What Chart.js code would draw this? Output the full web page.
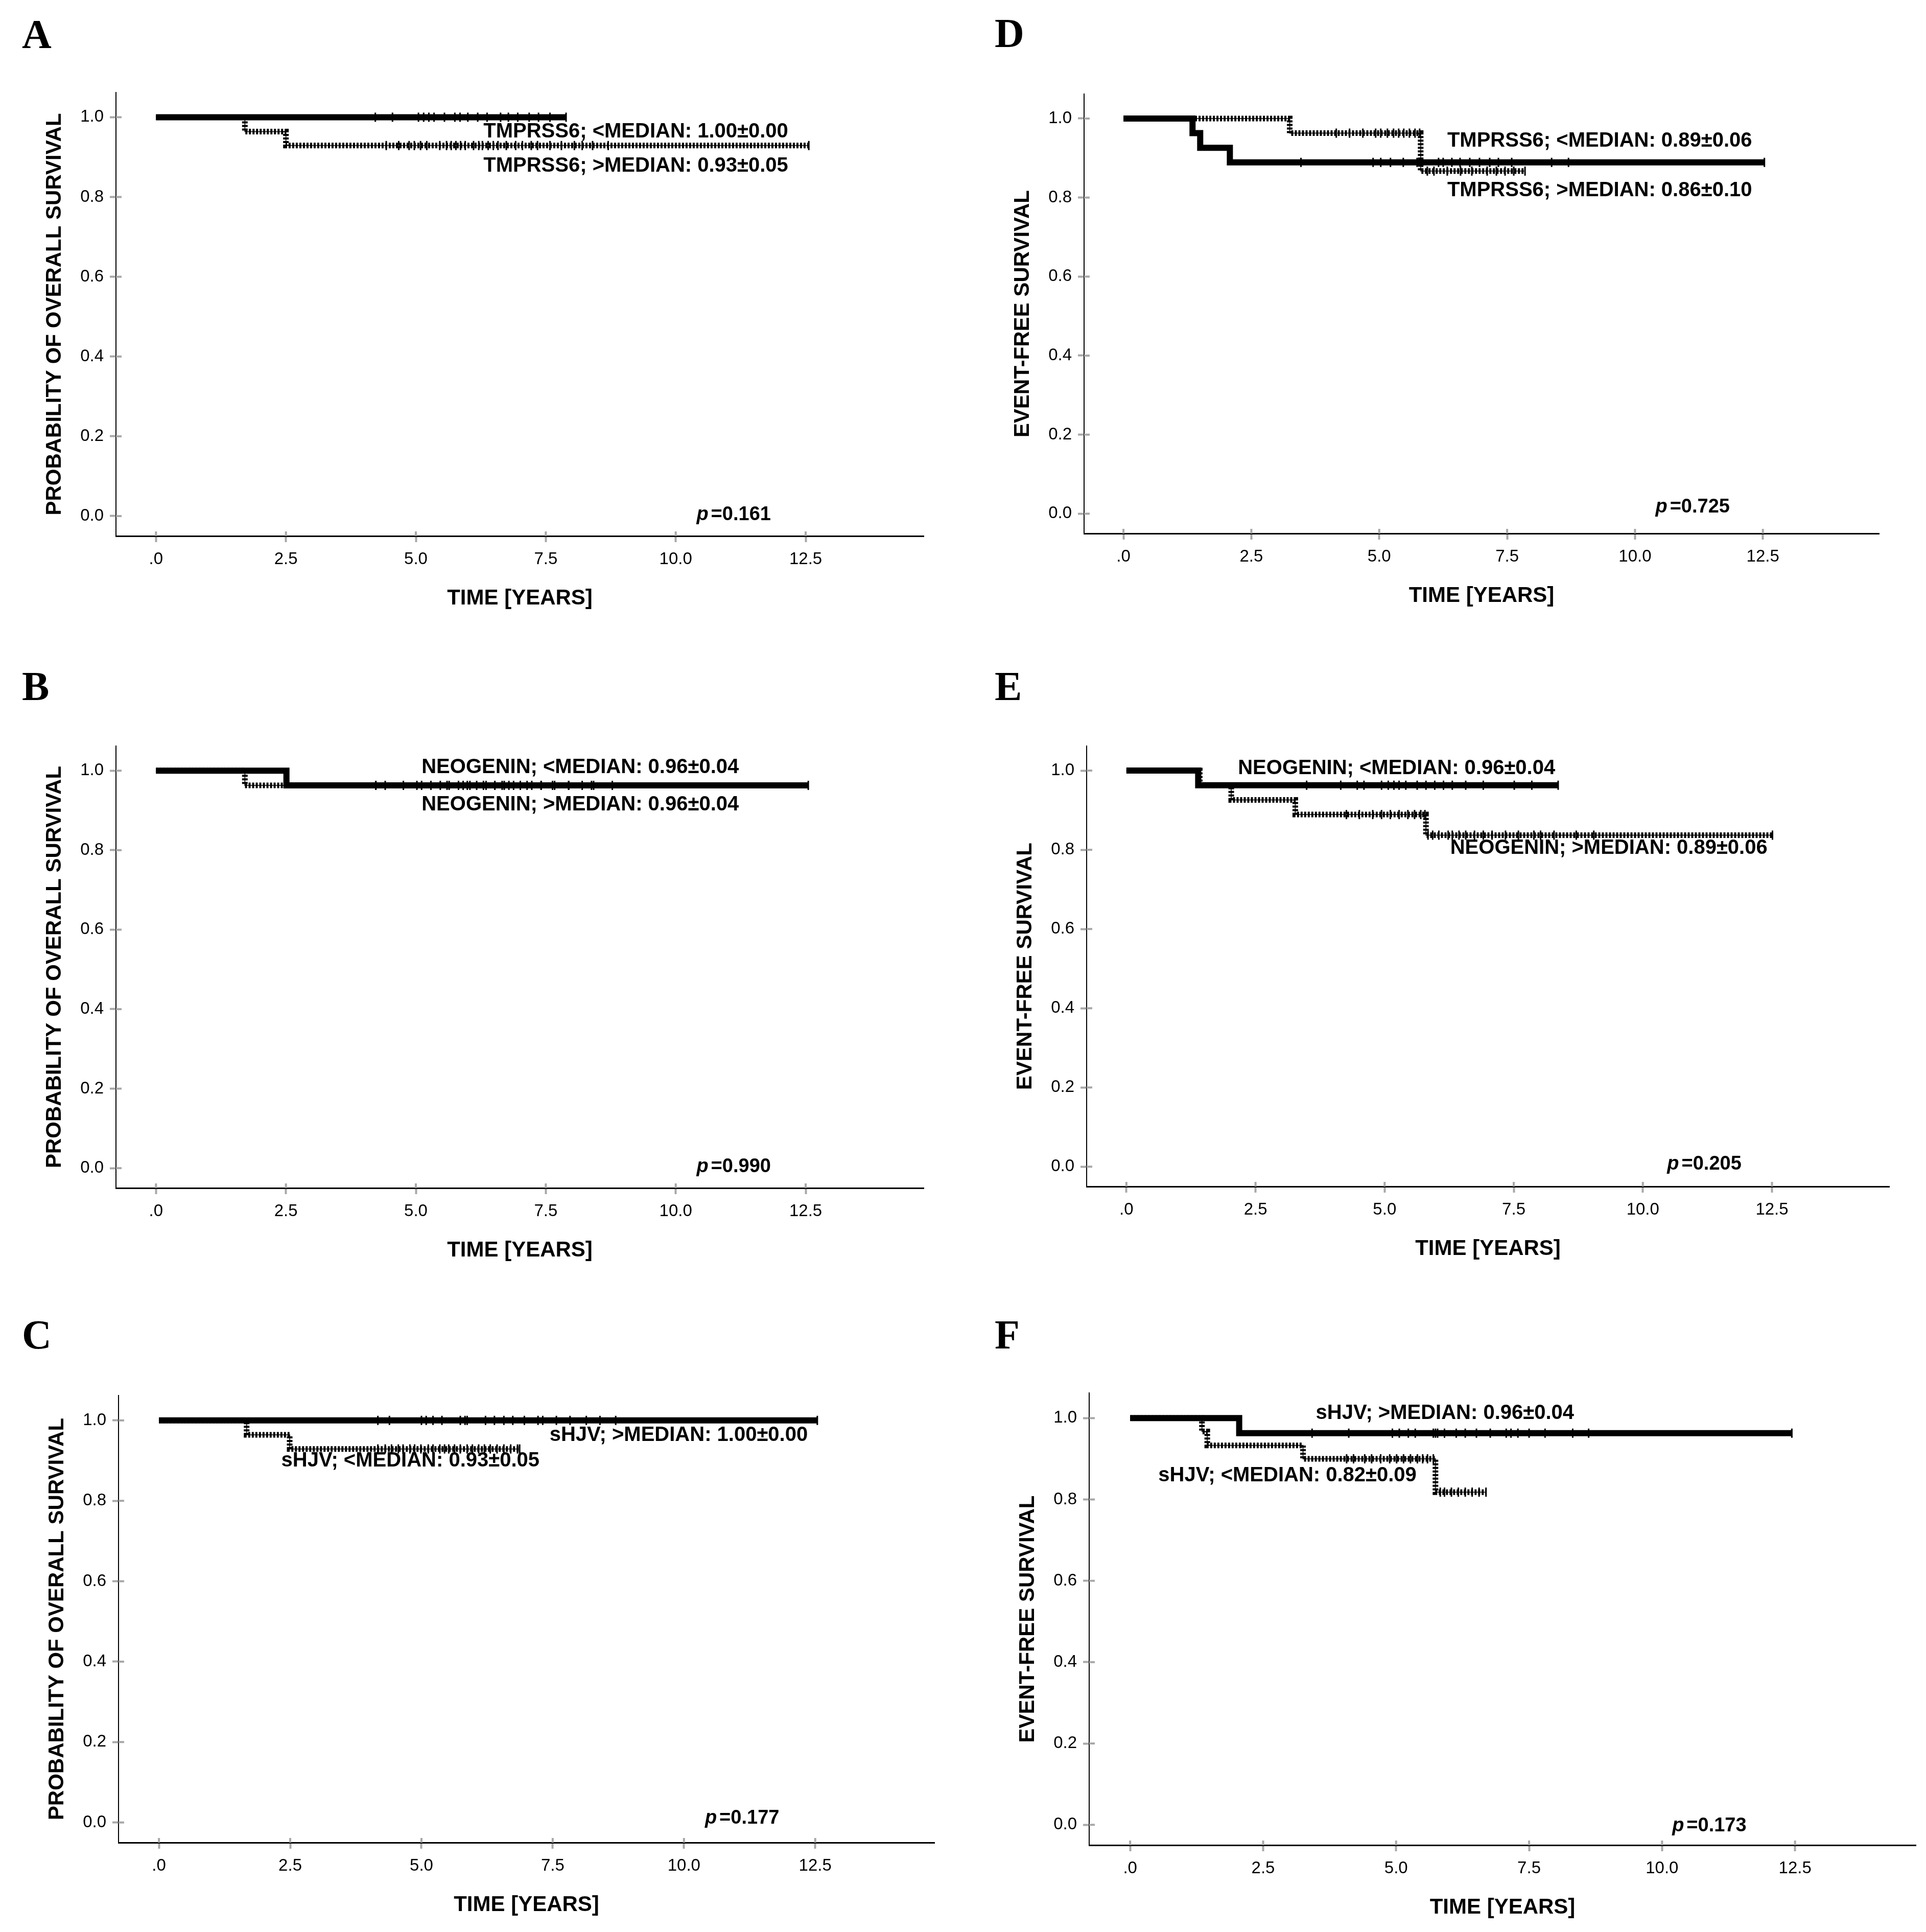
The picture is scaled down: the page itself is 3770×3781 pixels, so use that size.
<!DOCTYPE html>
<html>
<head>
<meta charset="utf-8">
<script src="https://cdn.jsdelivr.net/npm/chart.js@4.4.1/dist/chart.umd.min.js"></script>
<style>
html, body { margin: 0; padding: 0; background: #fff; }
#page { position: relative; width: 3770px; height: 3781px; background: #fff; overflow: hidden; }
canvas { position: absolute; }
.letter { position: absolute; font-family: "Liberation Serif", "DejaVu Serif", serif; font-weight: bold; font-size: 80px; line-height: 80px; color: #000; }
</style>
</head>
<body>
<div id="page">
  <div class="letter" style="left:43px;top:27px">A</div>
  <div class="letter" style="left:1947px;top:25px">D</div>
  <div class="letter" style="left:43px;top:1303px">B</div>
  <div class="letter" style="left:1947px;top:1303px">E</div>
  <div class="letter" style="left:43px;top:2572px">C</div>
  <div class="letter" style="left:1947px;top:2572px">F</div>
  <canvas id="cA"></canvas>
  <canvas id="cD"></canvas>
  <canvas id="cB"></canvas>
  <canvas id="cE"></canvas>
  <canvas id="cC"></canvas>
  <canvas id="cF"></canvas>
</div>
<script>
const FONT = '"Liberation Sans", Arial, sans-serif';

// axis ticks
const xTickValues = [0, 2.5, 5, 7.5, 10, 12.5];
const xTickLabels = ['.0', '2.5', '5.0', '7.5', '10.0', '12.5'];
const yTickValues = [0, 0.2, 0.4, 0.6, 0.8, 1.0];
const yTickLabels = ['0.0', '0.2', '0.4', '0.6', '0.8', '1.0'];

// A: TMPRSS6, overall survival
const aLowT = [0, 7.89];
const aLowS = [1, 1];
const aLowCens = [4.22, 4.55, 5.05, 5.15, 5.25, 5.35, 5.55, 5.75, 5.85, 6.0, 6.19, 6.37, 6.63, 6.78, 6.96, 7.18, 7.36, 7.58, 7.89];
const aHighT = [0, 1.71, 2.50, 12.56];
const aHighS = [1, 0.964, 0.929, 0.929];
const aHighCens = [4.43, 4.67, 4.87, 4.97, 5.09, 5.21, 5.46, 5.59, 5.68, 5.77, 5.86, 5.95, 6.11, 6.21, 6.28, 6.39, 6.49, 6.58, 6.74, 6.92, 7.05, 7.22, 7.34, 7.58, 7.80, 8.05, 8.20, 8.40, 8.70, 12.56];

// D: TMPRSS6, event-free survival
const dLowT = [0, 1.35, 1.50, 2.08, 12.53];
const dLowS = [1, 0.963, 0.926, 0.889, 0.889];
const dLowCens = [3.47, 4.88, 5.03, 5.22, 5.47, 5.74, 5.84, 6.16, 6.25, 6.42, 6.58, 6.77, 6.96, 7.16, 7.33, 7.59, 8.37, 8.70, 12.53];
const dHighT = [0, 3.25, 5.81, 7.85];
const dHighS = [1, 0.963, 0.867, 0.867];
const dHighCens = [4.16, 4.42, 4.68, 4.93, 5.03, 5.16, 5.28, 5.38, 5.48, 5.59, 5.70, 5.79, 5.94, 6.07, 6.33, 6.59, 6.81, 7.11, 7.29, 7.46, 7.63, 7.85];

// B: NEOGENIN, overall survival
const bLowT = [0, 2.51, 12.55];
const bLowS = [1, 0.963, 0.963];
const bLowCens = [4.23, 4.41, 5.02, 5.29, 5.60, 5.91, 6.04, 6.30, 6.52, 6.66, 6.79, 7.01, 7.23, 7.41, 7.67, 7.94, 8.42, 8.78, 12.55];
const bHighT = [0, 1.71, 8.38];
const bHighS = [1, 0.963, 0.963];
const bHighCens = [4.23, 4.76, 5.11, 5.47, 5.64, 5.82, 5.99, 6.17, 6.35, 6.52, 6.70, 6.88, 7.14, 7.41, 7.63, 7.94, 8.20, 8.38];

// E: NEOGENIN, event-free survival
const eLowT = [0, 1.39, 8.36];
const eLowS = [1, 0.963, 0.963];
const eLowCens = [3.49, 4.15, 4.47, 4.60, 4.94, 5.07, 5.18, 5.28, 5.41, 5.63, 5.80, 5.97, 6.14, 6.31, 6.57, 6.91, 7.51, 7.85, 8.36];
const eHighT = [0, 1.42, 2.03, 3.27, 5.80, 12.51];
const eHighS = [1, 0.963, 0.926, 0.889, 0.837, 0.837];
const eHighCens = [4.26, 4.51, 4.77, 4.94, 5.11, 5.28, 5.45, 5.58, 5.70, 5.78, 5.84, 5.93, 6.05, 6.23, 6.31, 6.44, 6.57, 6.74, 6.91, 7.08, 7.34, 7.59, 7.89, 8.02, 8.28, 8.71, 9.05, 12.51];

// C: sHJV, overall survival
const cHighT = [0, 12.54];
const cHighS = [1, 1];
const cHighCens = [4.17, 4.39, 5.00, 5.09, 5.22, 5.39, 5.74, 5.83, 5.87, 6.22, 6.39, 6.57, 6.74, 6.96, 7.22, 7.31, 7.57, 7.83, 8.14, 8.40, 8.70, 12.54];
const cLowT = [0, 1.67, 2.49, 6.87];
const cLowS = [1, 0.964, 0.929, 0.929];
const cLowCens = [4.17, 4.31, 4.43, 4.56, 4.65, 4.78, 4.87, 4.99, 5.13, 5.22, 5.35, 5.44, 5.52, 5.63, 5.74, 5.87, 5.97, 6.09, 6.20, 6.31, 6.44, 6.57, 6.70, 6.83, 6.87];

// F: sHJV, event-free survival
const fHighT = [0, 2.05, 12.44];
const fHighS = [1, 0.963, 0.963];
const fHighCens = [3.42, 4.11, 4.93, 5.06, 5.23, 5.36, 5.70, 5.74, 5.78, 5.91, 6.13, 6.30, 6.51, 6.77, 7.07, 7.16, 7.29, 7.50, 7.80, 8.32, 8.62, 12.44];
const fLowT = [0, 1.35, 1.45, 3.25, 5.74, 6.69];
const fLowS = [1, 0.967, 0.933, 0.900, 0.818, 0.818];
const fLowCens = [4.07, 4.20, 4.41, 4.54, 4.71, 4.88, 5.01, 5.14, 5.27, 5.40, 5.50, 5.59, 5.70, 5.83, 5.91, 6.04, 6.17, 6.30, 6.43, 6.56, 6.69];

function steps(T, S) {
    return T.map((t, i) => ({x: t, y: S[i]}));
}

function censorPoints(C, T, S) {
    return C.map(c => {
        let s = S[0];
        for (let i = 0; i < T.length; i++) {
            if (T[i] <= c) s = S[i];
        }
        return {x: c, y: s};
    });
}

const OS = 'PROBABILITY OF OVERALL SURVIVAL';
const EFS = 'EVENT-FREE SURVIVAL';

// canvas box: left, top, width, height (chart area = box minus 227 left, 40 top, 20 right, 160 bottom)
const panels = [
    {id: 'cA', box: [0, 141, 1828, 1068], yTitle: OS,
     solid: [aLowT, aLowS, aLowCens], dotted: [aHighT, aHighS, aHighCens],
     labels: [{t: 'TMPRSS6; <MEDIAN: 1.00±0.00', x: 6.30, y: 0.963}, {t: 'TMPRSS6; >MEDIAN: 0.93±0.05', x: 6.30, y: 0.878}],
     p: {t: '=0.161', x: 10.4, y: 0.003}},
    {id: 'cD', box: [1895, 144, 1803, 1060], yTitle: EFS,
     solid: [dLowT, dLowS, dLowCens], dotted: [dHighT, dHighS, dHighCens],
     labels: [{t: 'TMPRSS6; <MEDIAN: 0.89±0.06', x: 6.33, y: 0.943}, {t: 'TMPRSS6; >MEDIAN: 0.86±0.10', x: 6.33, y: 0.818}],
     p: {t: '=0.725', x: 10.4, y: 0.016}},
    {id: 'cB', box: [0, 1420, 1828, 1065], yTitle: OS,
     solid: [bLowT, bLowS, bLowCens], dotted: [bHighT, bHighS, bHighCens],
     labels: [{t: 'NEOGENIN; <MEDIAN: 0.96±0.04', x: 5.11, y: 1.008}, {t: 'NEOGENIN; >MEDIAN: 0.96±0.04', x: 5.11, y: 0.914}],
     p: {t: '=0.990', x: 10.4, y: 0.003}},
    {id: 'cE', box: [1900, 1420, 1818, 1062], yTitle: EFS,
     solid: [eLowT, eLowS, eLowCens], dotted: [eHighT, eHighS, eHighCens],
     labels: [{t: 'NEOGENIN; <MEDIAN: 0.96±0.04', x: 2.16, y: 1.005}, {t: 'NEOGENIN; >MEDIAN: 0.89±0.06', x: 6.27, y: 0.804}],
     p: {t: '=0.205', x: 10.47, y: 0.006}},
    {id: 'cC', box: [5, 2691, 1844, 1075], yTitle: OS,
     solid: [cHighT, cHighS, cHighCens], dotted: [cLowT, cLowS, cLowCens],
     labels: [{t: 'sHJV; >MEDIAN: 1.00±0.00', x: 7.44, y: 0.9625}, {t: 'sHJV; <MEDIAN: 0.93±0.05', x: 2.33, y: 0.899}],
     p: {t: '=0.177', x: 10.4, y: 0.01}},
    {id: 'cF', box: [1905, 2686, 1865, 1085], yTitle: EFS,
     solid: [fHighT, fHighS, fHighCens], dotted: [fLowT, fLowS, fLowCens],
     labels: [{t: 'sHJV; >MEDIAN: 0.96±0.04', x: 3.49, y: 1.012}, {t: 'sHJV; <MEDIAN: 0.82±0.09', x: 0.53, y: 0.858}],
     p: {t: '=0.173', x: 10.19, y: -0.003}}
];

const annotPlugin = {
    id: 'annot',
    afterDatasetsDraw(chart, args, opts) {
        const {ctx, scales: {x, y}} = chart;
        ctx.save();
        // inner half of the tick marks (SPSS ticks cross the axis)
        ctx.strokeStyle = '#a8a8a8';
        ctx.lineWidth = 4;
        xTickValues.forEach(v => {
            const px = x.getPixelForValue(v);
            ctx.beginPath();
            ctx.moveTo(px, y.bottom);
            ctx.lineTo(px, y.bottom - 9);
            ctx.stroke();
        });
        yTickValues.forEach(v => {
            const py = y.getPixelForValue(v);
            ctx.beginPath();
            ctx.moveTo(x.left, py);
            ctx.lineTo(x.left + 11, py);
            ctx.stroke();
        });
        ctx.fillStyle = '#000';
        ctx.textAlign = 'left';
        ctx.textBaseline = 'middle';
        ctx.font = 'bold 40px ' + FONT;
        opts.labels.forEach(l => {
            ctx.fillText(l.t, x.getPixelForValue(l.x), y.getPixelForValue(l.y));
        });
        const px = x.getPixelForValue(opts.p.x);
        const py = y.getPixelForValue(opts.p.y);
        ctx.font = 'italic bold 38px ' + FONT;
        ctx.fillText('p', px, py);
        const w = ctx.measureText('p').width;
        ctx.font = 'bold 38px ' + FONT;
        ctx.fillText(opts.p.t, px + w + 5, py);
        ctx.restore();
    }
};

function censorSet(points) {
    return {
        data: points,
        showLine: false,
        pointStyle: 'line',
        pointRotation: 90,
        pointRadius: 9,
        pointBorderWidth: 3,
        pointBorderColor: '#000',
        pointBackgroundColor: '#000'
    };
}

function createKmChart(p) {
    const el = document.getElementById(p.id);
    el.width = p.box[2];
    el.height = p.box[3];
    el.style.left = p.box[0] + 'px';
    el.style.top = p.box[1] + 'px';

    const [sT, sS, sC] = p.solid;
    const [dT, dS, dC] = p.dotted;

    return new Chart(el, {
        type: 'line',
        plugins: [annotPlugin],
        data: {
            datasets: [
                {
                    data: steps(sT, sS),
                    stepped: 'before',
                    borderColor: '#000',
                    borderWidth: 12,
                    borderJoinStyle: 'miter',
                    pointRadius: 0,
                    fill: false
                },
                censorSet(censorPoints(sC, sT, sS)),
                {
                    data: steps(dT, dS),
                    stepped: 'before',
                    borderColor: '#000',
                    borderWidth: 11,
                    borderDash: [4, 3],
                    borderCapStyle: 'butt',
                    pointRadius: 0,
                    fill: false
                },
                {
                    // thin spine running through the dotted line
                    data: steps(dT, dS),
                    stepped: 'before',
                    borderColor: '#333',
                    borderWidth: 2,
                    pointRadius: 0,
                    fill: false
                },
                censorSet(censorPoints(dC, dT, dS))
            ]
        },
        options: {
            responsive: false,
            devicePixelRatio: 1,
            animation: false,
            layout: {padding: {left: 0, top: 40, right: 20, bottom: 0}},
            plugins: {
                legend: {display: false},
                tooltip: {enabled: false},
                annot: {labels: p.labels, p: p.p}
            },
            scales: {
                x: {
                    type: 'linear',
                    min: -0.77,
                    max: 14.77,
                    afterBuildTicks: s => { s.ticks = xTickValues.map(v => ({value: v})); },
                    afterFit: s => { s.height = 160; },
                    grid: {drawOnChartArea: false, drawTicks: true, tickLength: 12, tickColor: '#a8a8a8', tickWidth: 4},
                    border: {display: true, color: '#000', width: 3},
                    ticks: {
                        color: '#000',
                        font: {family: FONT, size: 33},
                        padding: 14,
                        maxRotation: 0,
                        autoSkip: false,
                        callback: (v, i) => xTickLabels[i]
                    },
                    title: {
                        display: true,
                        text: 'TIME [YEARS]',
                        color: '#000',
                        font: {family: FONT, size: 42, weight: 'bold'},
                        padding: {top: 0, bottom: 12}
                    }
                },
                y: {
                    type: 'linear',
                    min: -0.05,
                    max: 1.062,
                    afterBuildTicks: s => { s.ticks = yTickValues.map(v => ({value: v})); },
                    afterFit: s => { s.width = 227; },
                    grid: {drawOnChartArea: false, drawTicks: true, tickLength: 12, tickColor: '#a8a8a8', tickWidth: 4},
                    border: {display: true, color: '#000', width: 2},
                    ticks: {
                        color: '#000',
                        font: {family: FONT, size: 33},
                        padding: 12,
                        autoSkip: false,
                        callback: (v, i) => yTickLabels[i]
                    },
                    title: {
                        display: true,
                        text: p.yTitle,
                        color: '#000',
                        font: {family: FONT, size: 42, weight: 'bold'},
                        padding: {top: 82, bottom: 0}
                    }
                }
            }
        }
    });
}

panels.forEach(createKmChart);
</script>
</body>
</html>
